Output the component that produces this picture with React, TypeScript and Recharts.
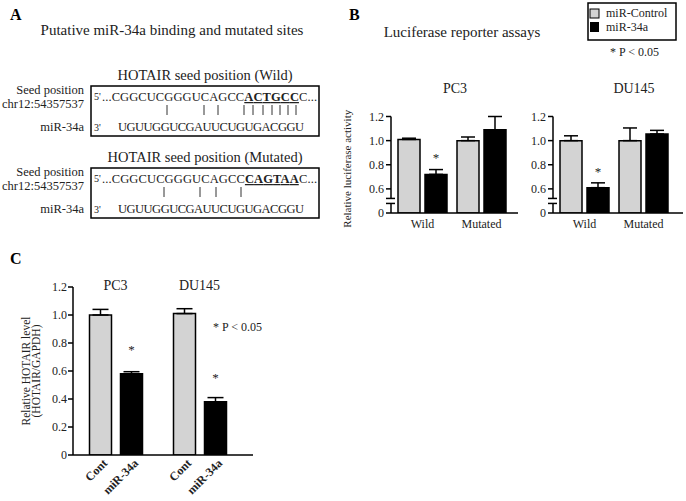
import React from 'react';
import { BarChart, Bar, XAxis, YAxis, ErrorBar, LabelList, Label } from 'recharts';

const FONT = "'Liberation Serif', 'Times New Roman', Times, serif";
const GREY = '#d3d3d3';
const INK = '#222';

// B - luciferase reporter assays
const constructs = ['Wild', 'Mutated'];
const lucSeries = ['miR-Control', 'miR-34a'];
const pc3Control = [1.01, 1.0];
const pc3ControlErr = [0.01, 0.03];
const pc3Mir = [0.72, 1.09];
const pc3MirErr = [0.04, 0.11];
const pc3Sig = ['*', ''];
const du145Control = [1.0, 1.0];
const du145ControlErr = [0.04, 0.105];
const du145Mir = [0.61, 1.055];
const du145MirErr = [0.04, 0.03];
const du145Sig = ['*', ''];
// 0.4 is drawn as "0" (broken axis), 0.5 carries the break marks
const lucTicks = [0.4, 0.5, 0.6, 0.8, 1.0, 1.2];

// C - HOTAIR level
const cellLines = ['PC3', 'DU145'];
const hotairSeries = ['Cont', 'miR-34a'];
const contLevel = [1.0, 1.01];
const contErr = [0.04, 0.035];
const mirLevel = [0.58, 0.38];
const mirErr = [0.015, 0.03];
const hotairSig = ['*', '*'];
const hotairTicks = [0, 0.2, 0.4, 0.6, 0.8, 1.0, 1.2];

// A - sequences
const wildTop = ['...CGGCUCGGGUCAGCC', 'ACTGCC', 'C...'];
const mutTop = ['...CGGCUCGGGUCAGCC', 'CAGTAA', 'C...'];
const mirStrand = 'UGUUGGUCGAUUCUGUGACGGU';
const wildPairs = [167, 204, 218, 244, 253, 263, 272, 280, 288, 296];
const mutPairs = [164, 200, 216, 241];

const pc3Data = constructs.map((c, i) => ({
  construct: c,
  control: pc3Control[i],
  controlErr: [0, pc3ControlErr[i]],
  mir: pc3Mir[i],
  mirErr: [0, pc3MirErr[i]],
  sig: pc3Sig[i],
}));

const du145Data = constructs.map((c, i) => ({
  construct: c,
  control: du145Control[i],
  controlErr: [0, du145ControlErr[i]],
  mir: du145Mir[i],
  mirErr: [0, du145MirErr[i]],
  sig: du145Sig[i],
}));

const hotairData = cellLines.map((c, i) => ({
  cell: c,
  cont: contLevel[i],
  contErr: [0, contErr[i]],
  mir: mirLevel[i],
  mirErr: [0, mirErr[i]],
  sig: hotairSig[i],
}));

const axisStroke = { stroke: '#000', strokeWidth: 1.5 };

function LucTick({ x, y, payload }: any) {
  const v = payload.value;
  if (Math.abs(v - 0.5) < 1e-6) {
    return (
      <g>
        <rect x={x - 2} y={y - 2.5} width={4} height={5} fill="#fff" />
        <line x1={x - 5} x2={x + 4} y1={y - 2.5} y2={y - 2.5} stroke="#000" strokeWidth={1.5} />
        <line x1={x - 5} x2={x + 4} y1={y + 2.5} y2={y + 2.5} stroke="#000" strokeWidth={1.5} />
      </g>
    );
  }
  return (
    <g>
      <line x1={x - 5} x2={x} y1={y} y2={y} stroke="#000" strokeWidth={1.5} />
      <text x={x - 7} y={y} dy="0.35em" textAnchor="end" fontSize={12} fill={INK} fontFamily={FONT}>
        {v < 0.45 ? '0' : v.toFixed(1)}
      </text>
    </g>
  );
}

const star = (gap: number) => (props: any) => {
  const { x, y, width, value } = props;
  if (!value) return null;
  return (
    <text x={x + width / 2} y={y - gap} textAnchor="middle" fontSize={13} fontFamily={FONT} style={{ fill: INK }}>
      {value}
    </text>
  );
};

const lucAxisLabel = ({ viewBox }: any) => {
  const cx = viewBox.x + 11;
  const cy = viewBox.y + viewBox.height / 2 + 4;
  return (
    <text transform={`rotate(-90 ${cx} ${cy})`} x={cx} y={cy} dy="0.35em" textAnchor="middle" fontSize={11} fill={INK} fontFamily={FONT}>
      Relative luciferase activity
    </text>
  );
};

function LucChart({ data, width, yWidth, padRight, withLabel }: any) {
  return (
    <BarChart width={width} height={140} data={data} margin={{ top: 16.5, right: 0, bottom: 0, left: 0 }} barGap={5}>
      <XAxis
        dataKey="construct"
        interval={0}
        padding={{ left: 2, right: padRight }}
        height={27}
        axisLine={axisStroke}
        tickLine={false}
        tickSize={0}
        tickMargin={6}
        tick={{ fontSize: 12, fill: INK, fontFamily: FONT }}
      />
      <YAxis
        type="number"
        domain={[0.4, 1.2]}
        allowDataOverflow
        ticks={lucTicks}
        interval={0}
        width={yWidth}
        axisLine={axisStroke}
        tickLine={false}
        tickSize={0}
        tickMargin={0}
        tick={<LucTick />}
      >
        {withLabel && <Label content={lucAxisLabel} />}
      </YAxis>
      <Bar dataKey="control" barSize={22} fill={GREY} stroke="#000" strokeWidth={1.5} isAnimationActive={false}>
        <ErrorBar dataKey="controlErr" direction="y" width={7} stroke="#000" strokeWidth={1.5} />
      </Bar>
      <Bar dataKey="mir" barSize={22} fill="#000" stroke="#000" strokeWidth={1.5} isAnimationActive={false}>
        <ErrorBar dataKey="mirErr" direction="y" width={7} stroke="#000" strokeWidth={1.5} />
        <LabelList dataKey="sig" content={star(12)} />
      </Bar>
    </BarChart>
  );
}

function TitleTick({ x, y, payload }: any) {
  return (
    <text x={x} y={y + 3} textAnchor="middle" fontSize={14} fill={INK} fontFamily={FONT}>
      {payload.value}
    </text>
  );
}

function PairTick({ x, y }: any) {
  const half = (22 + 9) / 2;
  return (
    <g>
      {hotairSeries.map((name, i) => {
        const ax = x + (i === 0 ? -half : half) + 8;
        const ay = y + 9;
        return (
          <text
            key={name}
            x={ax}
            y={ay}
            transform={`rotate(-45 ${ax} ${ay})`}
            textAnchor="end"
            fontSize={12}
            fontWeight="bold"
            fill={INK}
            fontFamily={FONT}
          >
            {name}
          </text>
        );
      })}
    </g>
  );
}

const hotairAxisLabel = ({ viewBox }: any) => {
  const cy = viewBox.y + viewBox.height / 2;
  const x1 = viewBox.x + 16;
  const x2 = viewBox.x + 29;
  return (
    <g fontSize={11.5} fill={INK} fontFamily={FONT}>
      <text transform={`rotate(-90 ${x1} ${cy})`} x={x1} y={cy} dy="0.35em" textAnchor="middle">
        Relative HOTAIR level
      </text>
      <text transform={`rotate(-90 ${x2} ${cy})`} x={x2} y={cy - 3} dy="0.35em" textAnchor="middle">
        (HOTAIR/GAPDH)
      </text>
    </g>
  );
};

function HotairChart() {
  const pad = { left: 0.5, right: 11.5 };
  return (
    <BarChart width={243} height={231} data={hotairData} margin={{ top: 16, right: 0, bottom: 0, left: 0 }} barGap={9}>
      <XAxis
        xAxisId="top"
        orientation="top"
        dataKey="cell"
        interval={0}
        padding={pad}
        height={1}
        axisLine={false}
        tickLine={false}
        tickSize={0}
        tickMargin={0}
        tick={<TitleTick />}
      />
      <XAxis
        dataKey="cell"
        interval={0}
        padding={pad}
        height={46}
        axisLine={axisStroke}
        tickLine={false}
        tickSize={0}
        tickMargin={0}
        tick={<PairTick />}
      />
      <YAxis
        type="number"
        domain={[0, 1.2]}
        allowDataOverflow
        ticks={hotairTicks}
        interval={0}
        width={63}
        axisLine={axisStroke}
        tickLine={axisStroke}
        tickSize={5}
        tickMargin={1}
        tick={{ fontSize: 12, fill: INK, fontFamily: FONT }}
        tickFormatter={(v: number) => (v === 0 ? '0' : v.toFixed(1))}
      >
        <Label content={hotairAxisLabel} />
      </YAxis>
      <Bar dataKey="cont" barSize={22} fill={GREY} stroke="#000" strokeWidth={1.5} isAnimationActive={false}>
        <ErrorBar dataKey="contErr" direction="y" width={8} stroke="#000" strokeWidth={1.5} />
      </Bar>
      <Bar dataKey="mir" barSize={22} fill="#000" stroke="#000" strokeWidth={1.5} isAnimationActive={false}>
        <ErrorBar dataKey="mirErr" direction="y" width={8} stroke="#000" strokeWidth={1.5} />
        <LabelList dataKey="sig" content={star(20)} />
      </Bar>
    </BarChart>
  );
}

function SeedBox({ top, header, seq, pairs }: any) {
  return (
    <g fontFamily={FONT} fill={INK}>
      <text x={205} y={top - 6} textAnchor="middle" fontSize={14.5}>{header}</text>
      <rect x={91} y={top} width={228} height={50} fill="none" stroke="#000" strokeWidth={1.5} />
      <g fontSize={12.5} textAnchor="end">
        <text x={84} y={top + 8}>Seed position</text>
        <text x={84} y={top + 22}>chr12:54357537</text>
        <text x={84} y={top + 45}>miR-34a</text>
      </g>
      <text x={94} y={top + 14} fontSize={10}>5'</text>
      <text x={94} y={top + 45} fontSize={10}>3'</text>
      <text x={102} y={top + 15} fontSize={12.5} textLength={215} lengthAdjust="spacing">
        <tspan>{seq[0]}</tspan>
        <tspan fontWeight="bold" style={{ textDecoration: 'underline' }}>{seq[1]}</tspan>
        <tspan>{seq[2]}</tspan>
      </text>
      {pairs.map((px: number) => (
        <line key={px} x1={px} x2={px} y1={top + 19} y2={top + 29} stroke="#333" strokeWidth={1} />
      ))}
      <text x={118} y={top + 45} fontSize={12.5} textLength={186} lengthAdjust="spacing">{mirStrand}</text>
    </g>
  );
}

export default function App() {
  return (
    <div style={{ position: 'absolute', left: 0, top: 0, width: 686, height: 501, background: '#fff', fontFamily: FONT }}>
      <svg width={686} height={501} style={{ position: 'absolute', left: 0, top: 0 }}>
        <g fontFamily={FONT} fill={INK}>
          <text x={10} y={20} fontSize={16} fontWeight="bold" fill="#000">A</text>
          <text x={349} y={20} fontSize={16} fontWeight="bold" fill="#000">B</text>
          <text x={10} y={264} fontSize={16} fontWeight="bold" fill="#000">C</text>
          <text x={172} y={35} textAnchor="middle" fontSize={15}>Putative miR-34a binding and mutated sites</text>
          <text x={462} y={37} textAnchor="middle" fontSize={15}>Luciferase reporter assays</text>
          <text x={455} y={93} textAnchor="middle" fontSize={14}>PC3</text>
          <text x={634} y={93} textAnchor="middle" fontSize={14}>DU145</text>
          <text x={610} y={56} fontSize={12}>* P &lt; 0.05</text>
          <text x={213} y={331} fontSize={12}>* P &lt; 0.05</text>
        </g>
        <SeedBox top={86} header="HOTAIR seed position (Wild)" seq={wildTop} pairs={wildPairs} />
        <SeedBox top={168} header="HOTAIR seed position (Mutated)" seq={mutTop} pairs={mutPairs} />
        <g fontFamily={FONT} fill={INK}>
          <rect x={588} y={3} width={88} height={37} fill="#fff" stroke="#000" strokeWidth={1.5} />
          <rect x={590} y={9} width={9} height={9} fill={GREY} stroke="#000" strokeWidth={1} />
          <rect x={590} y={22} width={9} height={10} fill="#000" />
          <text x={606} y={17} fontSize={12}>{lucSeries[0]}</text>
          <text x={606} y={31} fontSize={12}>{lucSeries[1]}</text>
        </g>
      </svg>
      <div style={{ position: 'absolute', left: 336, top: 100 }}>
        <LucChart data={pc3Data} width={182} yWidth={55} padRight={7} withLabel />
      </div>
      <div style={{ position: 'absolute', left: 512, top: 100 }}>
        <LucChart data={du145Data} width={171} yWidth={41} padRight={10} withLabel={false} />
      </div>
      <div style={{ position: 'absolute', left: 10, top: 270 }}>
        <HotairChart />
      </div>
    </div>
  );
}
